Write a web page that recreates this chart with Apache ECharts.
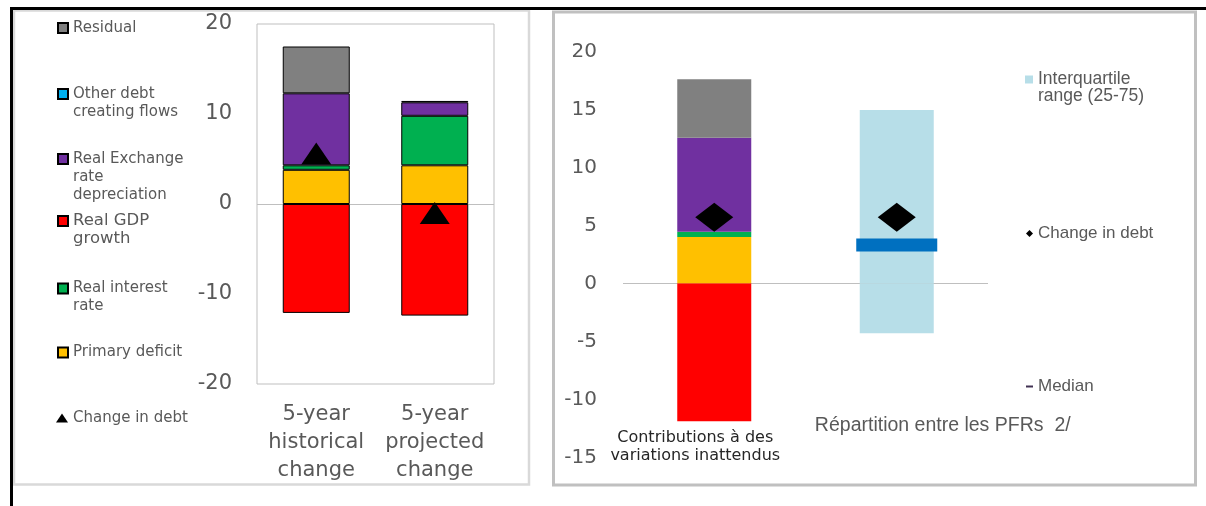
<!DOCTYPE html>
<html><head><meta charset="utf-8">
<script src="https://cdn.jsdelivr.net/npm/echarts@6/dist/echarts.min.js"></script>
<style>html,body{margin:0;padding:0;background:#fff}#c{width:1206px;height:506px}</style>
</head><body><div id="c"></div>
<script>
// ---------- Data ----------
const leftCategories = ['5-year\nhistorical\nchange', '5-year\nprojected\nchange'];
const gdpGrowth        = [-12.1, -12.4];
const primaryDeficit   = [3.8, 4.3];
const realInterest     = [0.5, 5.5];
const reerDepreciation = [8.0, 1.5];
const otherFlows       = [null, 0.15];
const residual         = [5.2, null];
const changeInDebt     = [5.6, -1.0];

const rightCategories = ['Contributions à des\nvariations inattendus', 'Répartition entre les PFRs  2/'];
const rGdpGrowth      = [-11.9, null];
const rPrimaryDeficit = [4.0, null];
const rRealInterest   = [0.45, null];
const rReer           = [8.1, null];
const rResidual       = [5.05, null];
const iqrLow          = [null, -4.3];
const iqrHigh         = [null, 14.95];
const medianVal       = [null, 3.3];
const rChangeInDebt   = [5.7, 5.7];

const leftAxis  = {min: -20, max: 20, interval: 10};
const rightAxis = {min: -15, max: 20, interval: 5};

const names = {
  gdp: 'Real GDP growth', pd: 'Primary deficit', ri: 'Real interest rate',
  reer: 'Real Exchange rate depreciation', other: 'Other debt creating flows',
  res: 'Residual', cid: 'Change in debt', iqr: 'Interquartile range (25-75)', med: 'Median'
};
const legendText = {
  'Residual': 'Residual',
  'Other debt creating flows': '\nOther debt\ncreating flows',
  'Real Exchange rate depreciation': '\n\nReal Exchange\nrate\ndepreciation',
  'Real GDP growth': '\nReal GDP\ngrowth',
  'Real interest rate': '\nReal interest\nrate',
  'Primary deficit': 'Primary deficit',
  'Change in debt': 'Change in debt',
  'Interquartile range (25-75)': '\nInterquartile\nrange (25-75)',
  'Median': 'Median'
};
const colors = {
  gdp: '#FF0000', pd: '#FFC000', ri: '#00B050', reer: '#7030A0',
  other: '#00B0F0', res: '#808080', iqr: '#B7DEE8', med: '#0070C0'
};

// ---------- Chart ----------
const DJ = 'DejaVu Sans';
const LB = 'Liberation Sans';
const chart = echarts.init(document.getElementById('c'));

function leg(name, left, top, o) {
  o = o || {};
  return {
    data: [o.data || {name: name, icon: 'rect'}], left: left, top: top, padding: 0, orient: 'vertical',
    itemWidth: o.w || 10, itemHeight: o.h || 10, selectedMode: false,
    formatter: n => legendText[n],
    textStyle: {fontFamily: o.ff || DJ, fontSize: o.fs || 15, lineHeight: o.lh || 18, color: '#595959'}
  };
}

function lbar(name, data, color) {
  return {name, type: 'bar', stack: 'L', xAxisIndex: 0, yAxisIndex: 0, barWidth: 67,
    data, itemStyle: {color, borderColor: '#000', borderWidth: 1, opacity: 1}};
}
function rbar(name, data, color) {
  return {name, type: 'bar', stack: 'R', xAxisIndex: 1, yAxisIndex: 1, barWidth: 74,
    data, itemStyle: {color, opacity: 1}};
}

const zeroColors = (ax) => {
  const arr = [];
  for (let v = ax.min; v <= ax.max; v += ax.interval) arr.push(v === 0 ? '#BFBFBF' : 'rgba(0,0,0,0)');
  return arr;
};

const option = {
  animation: false,
  backgroundColor: '#fff',
  graphic: [
    {type: 'rect', z: -10, shape: {x: 14, y: 10.5, width: 515, height: 474}, style: {fill: 'none', stroke: '#D9D9D9', lineWidth: 2.5}},
    {type: 'rect', z: -10, shape: {x: 553.5, y: 12, width: 642, height: 473}, style: {fill: 'none', stroke: '#C0C0C0', lineWidth: 3}},
    {type: 'rect', shape: {x: 10, y: 7, width: 1196, height: 3}, style: {fill: '#000'}},
    {type: 'rect', shape: {x: 10, y: 7, width: 3, height: 499}, style: {fill: '#000'}}
  ],
  legend: [
    leg(names.res, 57, 19),
    leg(names.other, 57, 67),
    leg(names.reer, 57, 114),
    leg(names.gdp, 57, 194, {fs: 16.5, lh: 18}),
    leg(names.ri, 57, 261.5),
    leg(names.pd, 57, 343.5),
    leg(names.cid, 56, 409, {w: 12, h: 9, data: {name: names.cid, icon: 'triangle'}}),
    leg(names.iqr, 1025, 53.5, {w: 8, h: 8, ff: LB, fs: 17.5, lh: 17}),
    leg(names.cid, 1026, 225, {w: 7, h: 7, ff: LB, fs: 17, lh: 17, data: {name: names.cid, icon: 'diamond'}}),
    leg(names.med, 1026, 378, {w: 7, h: 2, ff: LB, fs: 17, lh: 17, data: {name: names.med, icon: 'rect', itemStyle: {color: '#403152'}}})
  ],
  grid: [
    {left: 257, top: 24, width: 237, height: 360, show: true, borderColor: '#BFBFBF', borderWidth: 1, outerBoundsMode: 'none', containLabel: false},
    {left: 623, top: 51.3, width: 365, height: 406, outerBoundsMode: 'none', containLabel: false}
  ],
  xAxis: [
    {type: 'category', gridIndex: 0, data: leftCategories,
      axisLine: {show: false, onZero: false}, axisTick: {show: false}, splitLine: {show: false},
      axisLabel: {interval: 0, margin: 17, fontFamily: DJ, fontSize: 21, lineHeight: 28, color: '#595959'}},
    {type: 'category', gridIndex: 1, data: rightCategories, offset: -41,
      axisLine: {show: false, onZero: false}, axisTick: {show: false}, splitLine: {show: false},
      axisLabel: {interval: 0, margin: 0,
        formatter: (v, i) => i === 0
          ? '{s| }\n' + v.split('\n').map(l => '{a|' + l + '}').join('\n')
          : '{b|' + v + '}',
        rich: {
          s: {fontSize: 8, lineHeight: 13},
          a: {fontFamily: DJ, fontSize: 16, lineHeight: 18, color: '#262626', padding: [0, 38, 0, 0]},
          b: {fontFamily: LB, fontSize: 19.5, lineHeight: 18, color: '#595959', padding: [0, 0, 0, 92]}
        }}}
  ],
  yAxis: [
    {type: 'value', gridIndex: 0, min: leftAxis.min, max: leftAxis.max, interval: leftAxis.interval,
      axisLine: {show: false}, axisTick: {show: false},
      splitLine: {show: true, lineStyle: {color: zeroColors(leftAxis), width: 1}},
      axisLabel: {margin: 25, fontFamily: DJ, fontSize: 21, color: '#595959'}},
    {type: 'value', gridIndex: 1, min: rightAxis.min, max: rightAxis.max, interval: rightAxis.interval,
      axisLine: {show: false}, axisTick: {show: false},
      splitLine: {show: true, lineStyle: {color: zeroColors(rightAxis), width: 1}},
      axisLabel: {margin: 26, fontFamily: DJ, fontSize: 20, color: '#595959'}}
  ],
  series: [
    lbar(names.gdp, gdpGrowth, colors.gdp),
    lbar(names.pd, primaryDeficit, colors.pd),
    lbar(names.ri, realInterest, colors.ri),
    lbar(names.reer, reerDepreciation, colors.reer),
    lbar(names.other, otherFlows, colors.other),
    lbar(names.res, residual, colors.res),
    {name: names.cid, type: 'scatter', xAxisIndex: 0, yAxisIndex: 0, symbol: 'triangle', symbolSize: [30, 22],
      data: changeInDebt, itemStyle: {color: '#000', opacity: 1}, z: 5},

    rbar(names.gdp, rGdpGrowth, colors.gdp),
    rbar(names.pd, rPrimaryDeficit, colors.pd),
    rbar(names.ri, rRealInterest, colors.ri),
    rbar(names.reer, rReer, colors.reer),
    rbar(names.res, rResidual, colors.res),
    rbar(names.iqr, iqrLow, colors.iqr),
    rbar(names.iqr, iqrHigh, colors.iqr),
    {name: names.med, type: 'scatter', xAxisIndex: 1, yAxisIndex: 1, symbol: 'rect', symbolSize: [81, 13],
      data: medianVal, itemStyle: {color: colors.med, opacity: 1}, z: 4},
    {name: names.cid, type: 'scatter', xAxisIndex: 1, yAxisIndex: 1, symbol: 'diamond', symbolSize: [38, 29],
      data: rChangeInDebt, itemStyle: {color: '#000', opacity: 1}, z: 5}
  ]
};
chart.setOption(option);
</script>
</body></html>
